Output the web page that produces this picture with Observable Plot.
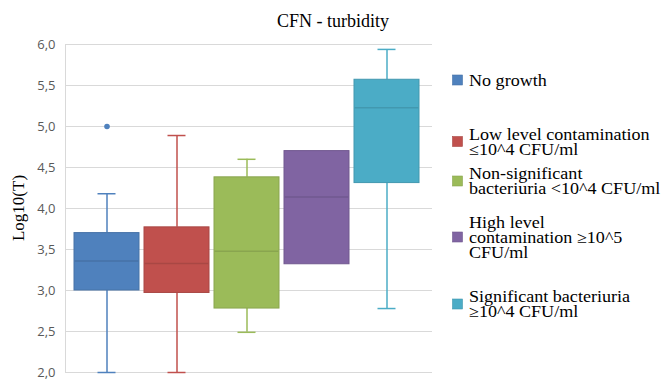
<!DOCTYPE html>
<html>
<head>
<meta charset="utf-8">
<script src="https://cdn.jsdelivr.net/npm/d3@7"></script>
<script src="https://cdn.jsdelivr.net/npm/@observablehq/plot@0.6"></script>
<style>
  html, body { margin: 0; padding: 0; background: #fff; }
  #page { position: relative; width: 666px; height: 389px; overflow: hidden; background: #fff; }
  .serif { font-family: "Liberation Serif", "Times New Roman", serif; color: #000; }
  #title { position: absolute; top: 11px; left: 0; width: 666px; text-align: center; font-size: 18px; line-height: 20px; }
  #ylabel { position: absolute; left: 19px; top: 208px; transform: translate(-50%, -50%) rotate(-90deg);
            font-size: 17px; line-height: 18px; white-space: nowrap; }
  #chart { position: absolute; top: 36px; left: 0; }
  #legend { position: absolute; left: 445px; top: 0; }
</style>
</head>
<body>
<div id="page">
  <div id="title" class="serif"></div>
  <div id="ylabel" class="serif"></div>
  <div id="chart"></div>
  <svg id="legend" width="221" height="389"></svg>
</div>
<script>
// ---- data ----
const titleText = "CFN - turbidity";
const yLabel = "Log10(T)";
const legendLines = [
  ["No growth"],
  ["Low level contamination", "≤10^4 CFU/ml"],
  ["Non-significant", "bacteriuria <10^4 CFU/ml"],
  ["High level", "contamination ≥10^5", "CFU/ml"],
  ["Significant bacteriuria", "≥10^4 CFU/ml"]
];
const categories = legendLines.map(l => l.join(" "));
const whiskerLow  = [2.00, 2.00, 2.49, null, 2.78];
const q1          = [3.00, 2.97, 2.78, 3.32, 4.31];
const median      = [3.36, 3.33, 3.48, 4.14, 5.23];
const q3          = [3.70, 3.77, 4.38, 4.70, 5.57];
const whiskerHigh = [4.18, 4.89, 4.60, null, 5.94];
const outlierCats   = ["No growth"];
const outlierValues = [5.0];
const yTicks = [2.0, 2.5, 3.0, 3.5, 4.0, 4.5, 5.0, 5.5, 6.0];
const colors = ["#4F81BD", "#C0504D", "#9BBB59", "#8064A2", "#4BACC6"];

// ---- build ----
const darker = c => d3.color(c).darker(0.35).formatHex();
const rows = categories.map((cat, i) => ({
  cat, i, low: whiskerLow[i], q1: q1[i], median: median[i], q3: q3[i], high: whiskerHigh[i]
}));
const withWhiskers = rows.filter(d => d.low != null && d.high != null);
const outliers = outlierCats.map((cat, k) => ({cat, i: categories.indexOf(cat), value: outlierValues[k]}));
const fmt = v => d3.format(".1f")(v).replace(".", ",");

const plot = Plot.plot({
  width: 445,
  height: 353,
  marginTop: 8,
  marginBottom: 17,
  marginLeft: 65,
  marginRight: 13,
  style: {fontFamily: "'Open Sans', sans-serif", fontSize: "13px", color: "#595959", background: "transparent"},
  x: {domain: categories, axis: null, paddingInner: 0.078, paddingOuter: 0.142, align: 0.38},
  y: {domain: [2, 6], ticks: yTicks, tickFormat: fmt, tickSize: 0, tickPadding: 10, label: null},
  color: {type: "identity"},
  marks: [
    Plot.ruleY(yTicks, {stroke: "#d9d9d9", strokeWidth: 1}),
    Plot.frame({anchor: "left", stroke: "#d9d9d9"}),
    Plot.ruleX(withWhiskers, {x: "cat", y1: "low", y2: "q1", stroke: d => colors[d.i], strokeWidth: 1.5}),
    Plot.ruleX(withWhiskers, {x: "cat", y1: "q3", y2: "high", stroke: d => colors[d.i], strokeWidth: 1.5}),
    Plot.tickY(withWhiskers, {x: "cat", y: "low", stroke: d => colors[d.i], strokeWidth: 1.5, inset: 23.5}),
    Plot.tickY(withWhiskers, {x: "cat", y: "high", stroke: d => colors[d.i], strokeWidth: 1.5, inset: 23.5}),
    Plot.barY(rows, {x: "cat", y1: "q1", y2: "q3", fill: d => colors[d.i], stroke: d => darker(colors[d.i]), strokeWidth: 1}),
    Plot.tickY(rows, {x: "cat", y: "median", stroke: d => darker(colors[d.i]), strokeWidth: 1.5, inset: 0.5}),
    Plot.dot(outliers, {x: "cat", y: "value", fill: d => colors[d.i], r: 2.8})
  ]
});
document.getElementById("chart").appendChild(plot);
document.getElementById("title").textContent = titleText;
document.getElementById("ylabel").textContent = yLabel;

// legend (svg)
const centers = [80, 141.5, 181, 237, 304];
const lineH = 15;
const lsvg = d3.select("#legend");
legendLines.forEach((lines, i) => {
  const g = lsvg.append("g").attr("transform", `translate(0,${centers[i]})`);
  g.append("rect").attr("x", 7.5).attr("y", -5).attr("width", 10).attr("height", 10)
    .attr("fill", colors[i]).attr("stroke", darker(colors[i])).attr("stroke-width", 0.6);
  const t = g.append("text")
    .style("font-family", "'Liberation Serif', serif")
    .style("font-size", "16px").attr("fill", "#000")
    .attr("transform", "translate(24,0) scale(1.13,1)");
  lines.forEach((line, k) => {
    t.append("tspan").attr("x", 0)
      .attr("y", (k - (lines.length - 1) / 2) * lineH)
      .attr("dy", "0.35em").text(line);
  });
});
</script>
</body>
</html>
